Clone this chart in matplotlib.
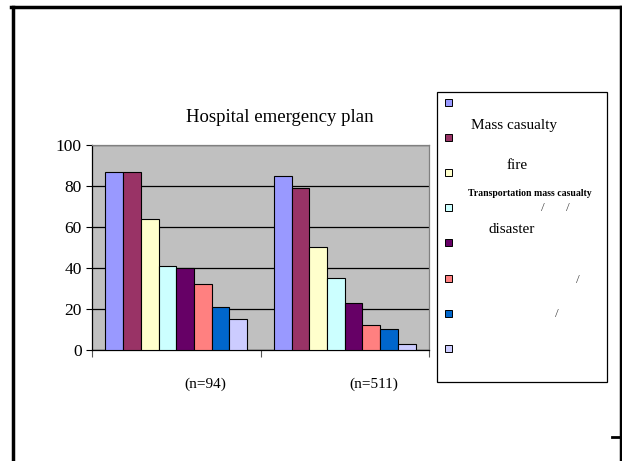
import numpy as np
import matplotlib
matplotlib.use("Agg")
import matplotlib.pyplot as plt
from matplotlib.lines import Line2D
from matplotlib.patches import Rectangle

# Survey groups and the share (%) having each type of emergency plan
groups = ["(n=94)", "(n=511)"]
plan_types = ["Mass casualty", "fire", "Transportation mass casualty", "disaster",
              "", "", "", ""]
group_a = [87, 87, 64, 41, 40, 32, 21, 15]
group_b = [85, 79, 50, 35, 23, 12, 10, 3]
colors = ["#9999FF", "#993366", "#FFFFCC", "#CCFFFF",
          "#660066", "#FF8080", "#0066CC", "#CCCCFF"]
y_ticks = [0, 20, 40, 60, 80, 100]

W, H = 622, 461
plt.rcParams["font.family"] = ["Liberation Serif", "DejaVu Serif"]

fig = plt.figure(figsize=(W / 100, H / 100), dpi=100)


def fx(x):
    return x / W


def fy(y):
    return 1 - y / H


# plot area placed in pixel terms
ax = fig.add_axes([fx(92), fy(350), fx(429) - fx(92), fy(145) - fy(350)])
ax.set_facecolor("#C0C0C0")

n = len(group_a)
bw = 0.105
x = np.arange(len(groups))
vals = np.array([group_a, group_b])
for i in range(n):
    ax.bar(x + (i - (n - 1) / 2) * bw, vals[:, i], width=bw, color=colors[i],
           edgecolor="black", linewidth=0.8, zorder=3)

ax.set_xlim(-0.5, 1.5)
ax.set_ylim(0, 100)
ax.set_yticks(y_ticks)
ax.set_yticklabels([str(t) for t in y_ticks], fontsize=12.5)
ax.yaxis.grid(True, color="black", linewidth=0.9, zorder=1)
ax.set_axisbelow(True)
ax.tick_params(axis="y", direction="out", length=4.5, width=0.8, pad=3)

# category boundaries as ticks, labels drawn separately
ax.set_xticks([-0.5, 0.5, 1.5])
ax.set_xticklabels([])
ax.tick_params(axis="x", direction="out", length=5, width=0.8, color="#555555")
for xi, g in zip(x, groups):
    ax.text(xi + 0.17, -0.165, g, transform=ax.get_xaxis_transform(),
            ha="center", va="center", fontsize=11)

ax.spines["left"].set_color("black")
ax.spines["bottom"].set_color("black")
ax.spines["top"].set_color("#808080")
ax.spines["right"].set_color("#808080")
for s in ax.spines.values():
    s.set_linewidth(0.9)

fig.text(fx(280), fy(117), "Hospital emergency plan", ha="center", va="center",
         fontsize=13.5)

# legend box
fig.add_artist(Rectangle((fx(436.5), fy(381.5)), fx(607) - fx(436.5),
                         fy(92) - fy(381.5), transform=fig.transFigure,
                         facecolor="white", edgecolor="black", linewidth=0.9))
for i in range(n):
    yc = 103 + i * 35.1
    fig.add_artist(Rectangle((fx(445), fy(yc + 3)), fx(7), fx(7) * W / H,
                             transform=fig.transFigure, facecolor=colors[i],
                             edgecolor="black", linewidth=0.7))

fig.text(fx(514), fy(125), plan_types[0], ha="center", va="center", fontsize=11)
fig.text(fx(517), fy(165), plan_types[1], ha="center", va="center", fontsize=11)
fig.text(fx(530), fy(193), plan_types[2], ha="center", va="center", fontsize=7,
         fontweight="bold")
fig.text(fx(512), fy(229), plan_types[3], ha="center", va="center", fontsize=11)
for sx, sy in [(543, 208), (568, 208), (578, 280), (557, 314)]:
    fig.text(fx(sx), fy(sy), "/", ha="center", va="center", fontsize=9.5,
             color="#444444")

# slide frame
for xs, ys, lw in [([12.5, 12.5], [7, 461], 2.5),
                   ([11, 622], [7, 7], 2.5),
                   ([621, 621], [7, 461], 2.5),
                   ([612, 621], [437, 437], 2)]:
    fig.add_artist(Line2D([fx(v) for v in xs], [fy(v) for v in ys],
                          transform=fig.transFigure, color="black", linewidth=lw))

fig.savefig("out.png", dpi=100)
